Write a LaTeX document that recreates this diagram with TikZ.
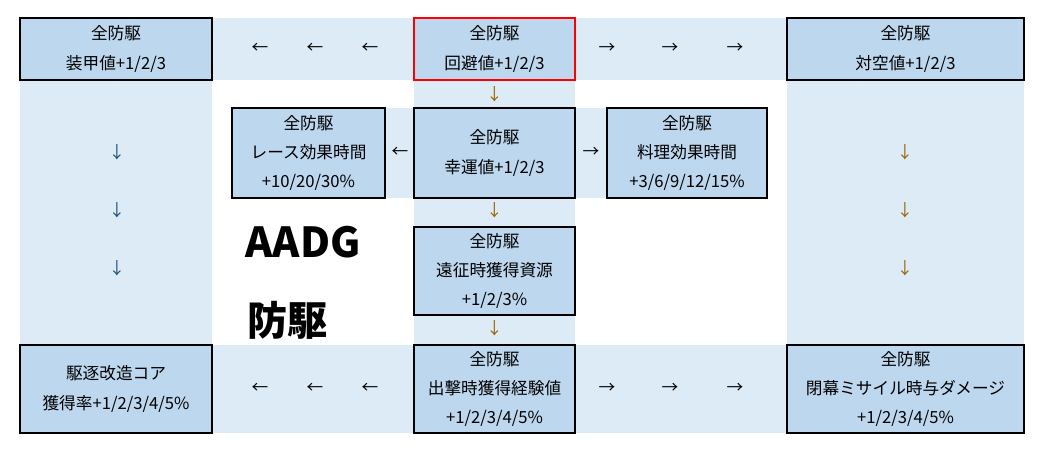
\documentclass[tikz,border=0pt]{standalone}
\usepackage{fontspec}
\setmainfont{Noto Sans CJK JP}
\usetikzlibrary{positioning}
\definecolor{bandfill}{RGB}{221,235,247}
\definecolor{boxfill}{RGB}{189,215,238}
\definecolor{arrowblue}{RGB}{31,78,121}
\definecolor{arrowgold}{RGB}{153,102,0}

\begin{document}
\begin{tikzpicture}[
    x=0.75pt, y=-0.75pt,
    font={\fontsize{12.5}{16}\selectfont},
    band/.style={fill=bandfill,draw=none},
    cell/.style={draw=black,line width=1.2pt,fill=boxfill,align=center,inner sep=0pt},
    txt/.style={align=center,inner sep=0pt,font={\fontsize{12.5}{22}\selectfont}},
    arr/.style={inner sep=0pt}
]
    \useasboundingbox (0,0) rectangle (1044,451);

    % bands
    \fill[band] (20,18) rectangle (1024,80);
    \fill[band] (20,18) rectangle (212,433);
    \fill[band] (787,18) rectangle (1024,433);
    \fill[band] (414,18) rectangle (575,433);
    \fill[band] (20,345) rectangle (1024,433);
    \fill[band] (232,108) rectangle (767,198);

    % boxes
    \draw[cell] (20,18) rectangle (212,80);
    \draw[cell,draw=red] (414,18) rectangle (575,80);
    \draw[cell] (787,18) rectangle (1024,80);
    \draw[cell] (232,108) rectangle (385,198);
    \draw[cell] (414,108) rectangle (575,198);
    \draw[cell] (607,108) rectangle (767,198);
    \draw[cell] (414,227) rectangle (575,315);
    \draw[cell] (20,345) rectangle (212,433);
    \draw[cell] (414,345) rectangle (575,433);
    \draw[cell] (787,345) rectangle (1024,433);

    % texts
    \node[txt] (armor) at (116,49) {全防駆\\装甲値+1/2/3};
    \node[txt] (evade) at (494.5,49) {全防駆\\回避値+1/2/3};
    \node[txt] (antiair) at (905.5,49) {全防駆\\対空値+1/2/3};
    \node[txt] (race) at (308.5,153) {全防駆\\レース効果時間\\+10/20/30\%};
    \node[txt] (luck) at (494.5,153) {全防駆\\幸運値+1/2/3};
    \node[txt] (cook) at (687,153) {全防駆\\料理効果時間\\+3/6/9/12/15\%};
    \node[txt] (expedition) at (494.5,271) {全防駆\\遠征時獲得資源\\+1/2/3\%};
    \node[txt] (core) at (116,389) {駆逐改造コア\\獲得率+1/2/3/4/5\%};
    \node[txt] (sortie) at (494.5,389) {全防駆\\出撃時獲得経験値\\+1/2/3/4/5\%};
    \node[txt] (missile) at (905.5,389) {全防駆\\閉幕ミサイル時与ダメージ\\+1/2/3/4/5\%};

    \node[font={\fontsize{31}{32}\bfseries\selectfont},anchor=west] (title) at (241,242) {AADG};
    \node[font={\fontsize{30}{32}\bfseries\selectfont},anchor=west] (kind) at (243,320) {防駆};

    % arrows
    \foreach \px in {260,315,370} {
        \node[arr] at (\px,48) {←};
        \node[arr] at (\px,388) {←};
    }
    \foreach \px in {607,670,735} {
        \node[arr] at (\px,48) {→};
        \node[arr] at (\px,388) {→};
    }
    \foreach \py in {152,210,268} {
        \node[arr,text=arrowblue] at (117,\py) {↓};
        \node[arr,text=arrowgold] at (905,\py) {↓};
    }
    \foreach \py in {94,210,328} \node[arr,text=arrowgold] at (494.5,\py) {↓};
    \node[arr] at (400,152) {←};
    \node[arr] at (591,152) {→};
\end{tikzpicture}
\end{document}
